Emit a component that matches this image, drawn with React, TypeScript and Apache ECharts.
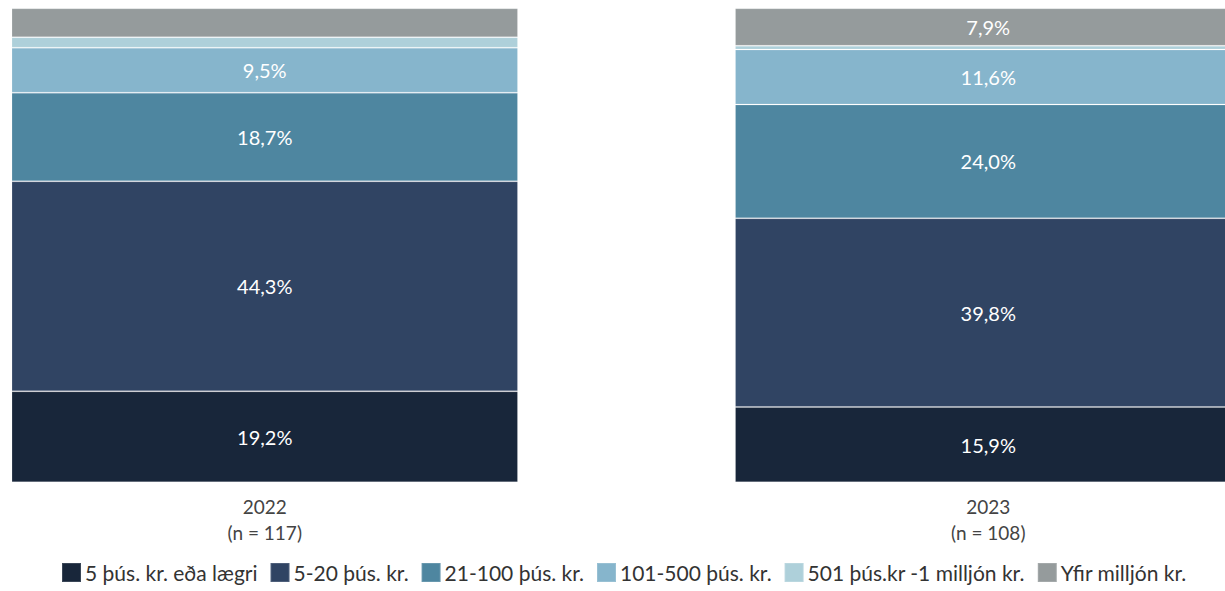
import React, { useEffect, useRef } from "react";
import * as echarts from "echarts";

const categories = ["2022\n(n = 117)", "2023\n(n = 108)"];
const seriesNames = [
  "5 þús. kr. eða lægri",
  "5-20 þús. kr.",
  "21-100 þús. kr.",
  "101-500 þús. kr.",
  "501 þús.kr -1 milljón kr.",
  "Yfir milljón kr.",
];
const s1 = [19.2, 15.9];
const s2 = [44.3, 39.8];
const s3 = [18.7, 24.0];
const s4 = [9.5, 11.6];
const s5 = [2.2, 0.8];
const s6 = [6.1, 7.9];
const values = [s1, s2, s3, s4, s5, s6];
const colors = ["#18263a", "#304463", "#4e86a0", "#86b5cc", "#aed0da", "#959b9c"];

const FONT = "Lato, sans-serif";
const OFFSET = 97;

export default function App() {
  const ref = useRef<HTMLDivElement>(null);
  useEffect(() => {
    if (!ref.current) return;
    const chart = echarts.init(ref.current, undefined, { renderer: "svg" });
    chart.setOption({
      animation: false,
      textStyle: { fontFamily: FONT },
      color: colors,
      legend: {
        bottom: 3,
        left: OFFSET + 56,
        itemWidth: 19,
        itemHeight: 19,
        itemGap: 12,
        icon: "rect",
        textStyle: { fontSize: 21, color: "#333", fontFamily: FONT, padding: [0, 0, 0, -1] },
        data: seriesNames,
      },
      grid: { left: 0, right: 0, top: 8.3, bottom: 108.7, containLabel: false },
      xAxis: {
        type: "category",
        data: categories,
        axisLine: { show: false },
        axisTick: { show: false },
        axisLabel: { fontSize: 19, color: "#444", lineHeight: 26, margin: 11, fontFamily: FONT },
      },
      yAxis: { type: "value", min: 0, max: 100, show: false },
      series: values.map((vals, i) => ({
        name: seriesNames[i],
        type: "bar",
        stack: "total",
        barCategoryGap: "30%",
        itemStyle: { borderColor: "rgba(255,255,255,0.15)", borderWidth: 1 },
        data: vals.map((v) => ({
          value: v,
          label: {
            show: v >= 7,
            position: "inside",
            color: "#fff",
            fontSize: 20,
            fontFamily: FONT,
            formatter: () => v.toFixed(1).replace(".", ",") + "%",
          },
        })),
      })),
    });
    return () => chart.dispose();
  }, []);
  return (
    <div
      style={{
        position: "absolute",
        left: 0,
        top: 0,
        width: 1225,
        height: 591,
        overflow: "hidden",
      }}
    >
      <div
        ref={ref}
        style={{ position: "absolute", left: -OFFSET, top: 0, width: 1447, height: 591 }}
      />
    </div>
  );
}
